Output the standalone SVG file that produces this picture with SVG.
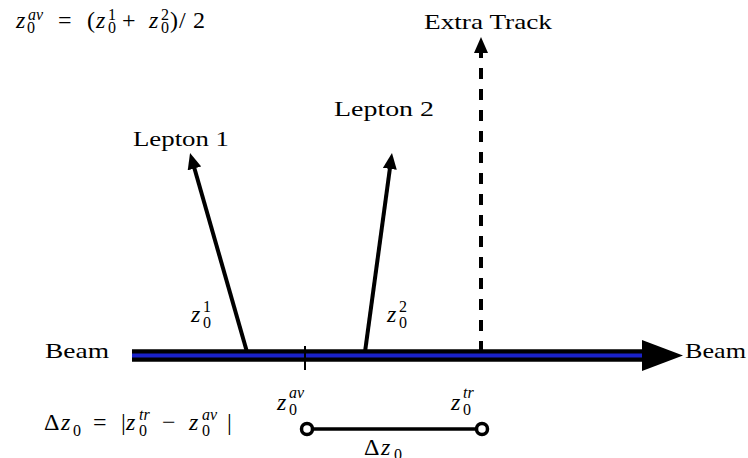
<svg xmlns="http://www.w3.org/2000/svg" width="748" height="458" viewBox="0 0 748 458">
<style>
text{font-family:"Liberation Serif","DejaVu Serif",serif;fill:#000}
.lbl{font-size:22px}
.m{font-size:24px}
.s{font-size:16px}
.i{font-style:italic}
.trk{stroke:#000;stroke-width:4;fill:none}
</style>
<defs>
<marker id="ah" markerUnits="userSpaceOnUse" markerWidth="18" markerHeight="14" refX="2" refY="7" orient="auto">
<path d="M0,0 L16,7 L0,14 z" fill="#000"/>
</marker>
</defs>
<rect width="748" height="458" fill="#fff"/>

<g id="beam">
<line x1="132" y1="355.5" x2="645" y2="355.5" stroke="#000" stroke-width="12.5"/>
<line x1="132" y1="355.5" x2="645" y2="355.5" stroke="#1a22c8" stroke-width="4"/>
<polygon points="642,340 683,355.5 642,371" fill="#000"/>
<line x1="305" y1="346" x2="305" y2="370" stroke="#000" stroke-width="2"/>
</g>

<g id="connectors">
<line class="trk" x1="247" y1="352" x2="193.9" y2="166.5" marker-end="url(#ah)"/>
<line class="trk" x1="365" y1="352" x2="390.1" y2="166.9" marker-end="url(#ah)"/>
<line class="trk" x1="481" y1="352" x2="481" y2="51" stroke-dasharray="11 10" marker-end="url(#ah)"/>
</g>

<g id="delta">
<line x1="307" y1="429" x2="482" y2="429" stroke="#000" stroke-width="3.5"/>
<circle cx="307" cy="429" r="5.5" fill="#fff" stroke="#000" stroke-width="3.5"/>
<circle cx="482" cy="429" r="5.5" fill="#fff" stroke="#000" stroke-width="3.5"/>
</g>

<g id="labels">
<text class="lbl" x="45" y="358" textLength="64" lengthAdjust="spacingAndGlyphs">Beam</text>
<text class="lbl" x="685" y="358" textLength="61" lengthAdjust="spacingAndGlyphs">Beam</text>
<text class="lbl" x="133" y="146" textLength="96" lengthAdjust="spacingAndGlyphs">Lepton 1</text>
<text class="lbl" x="334" y="116" textLength="100" lengthAdjust="spacingAndGlyphs">Lepton 2</text>
<text class="lbl" x="424" y="29" textLength="128" lengthAdjust="spacingAndGlyphs">Extra Track</text>
</g>

<g id="formula-top">
<text class="m"><tspan class="i" x="16" y="27.5">z</tspan><tspan class="s" x="27" y="33">0</tspan><tspan class="s i" x="28" y="20">av</tspan><tspan x="58" y="27.5">=</tspan><tspan x="87" y="27.5">(</tspan><tspan class="i" x="96" y="27.5">z</tspan><tspan class="s" x="108" y="33">0</tspan><tspan class="s" x="108" y="20">1</tspan><tspan x="122" y="27.5">+</tspan><tspan class="i" x="149" y="27.5">z</tspan><tspan class="s" x="161" y="33">0</tspan><tspan class="s" x="161" y="20">2</tspan><tspan x="170" y="27.5">)</tspan><tspan x="179" y="27.5">/</tspan><tspan x="193" y="27.5">2</tspan></text>
</g>

<g id="formula-bottom">
<text class="m"><tspan x="44" y="430">Δ</tspan><tspan class="i" x="61" y="430">z</tspan><tspan class="s" x="73" y="436">0</tspan><tspan x="93" y="430">=</tspan><tspan x="121" y="430">|</tspan><tspan class="i" x="126" y="430">z</tspan><tspan class="s" x="139" y="436">0</tspan><tspan class="s i" x="139" y="420">tr</tspan><tspan x="162" y="430">−</tspan><tspan class="i" x="189" y="430">z</tspan><tspan class="s" x="202" y="436">0</tspan><tspan class="s i" x="202" y="420">av</tspan><tspan x="227" y="430">|</tspan></text>
</g>

<g id="z-labels">
<text class="m"><tspan class="i" x="191" y="322">z</tspan><tspan class="s" x="203" y="328">0</tspan><tspan class="s" x="203" y="312">1</tspan></text>
<text class="m"><tspan class="i" x="387" y="322">z</tspan><tspan class="s" x="399" y="328">0</tspan><tspan class="s" x="399" y="312">2</tspan></text>
<text class="m"><tspan class="i" x="277" y="410">z</tspan><tspan class="s" x="289" y="415">0</tspan><tspan class="s i" x="289" y="398">av</tspan></text>
<text class="m"><tspan class="i" x="451" y="410">z</tspan><tspan class="s" x="463" y="415">0</tspan><tspan class="s i" x="463" y="398">tr</tspan></text>
<text class="m"><tspan x="364" y="455">Δ</tspan><tspan class="i" x="381" y="455">z</tspan><tspan class="s" x="394" y="460">0</tspan></text>
</g>
</svg>
